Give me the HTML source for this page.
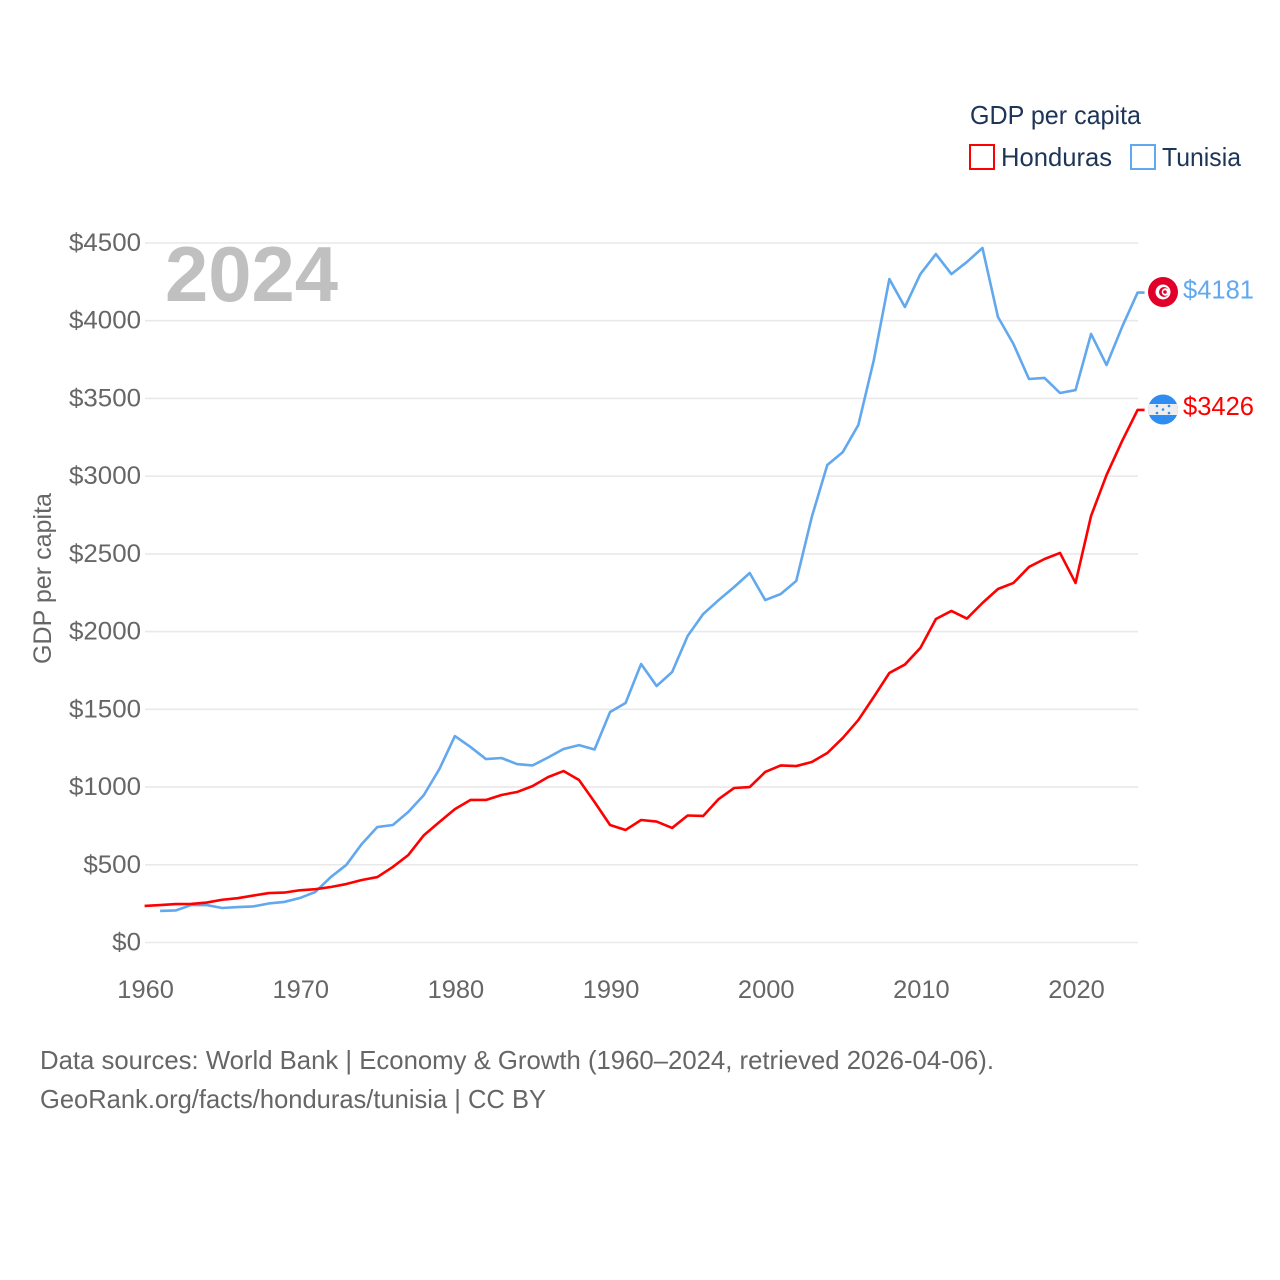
<!DOCTYPE html>
<html lang="en">
<head>
<meta charset="utf-8">
<title>GDP per capita: Honduras and Tunisia</title>
<style>
html,body{margin:0;padding:0;background:#fff;}
svg{display:block;font-family:"Liberation Sans",sans-serif;}
</style>
</head>
<body>
<svg id="chart" width="1280" height="1280" viewBox="0 0 1280 1280" xmlns="http://www.w3.org/2000/svg">
  <rect width="1280" height="1280" fill="#ffffff"/>
  <g id="grid"></g>
  <g id="yticks"></g>
  <g id="xticks"></g>
  <text x="165" y="301" font-size="78" font-weight="700" fill="#c0c0c0" textLength="173" lengthAdjust="spacingAndGlyphs">2024</text>
  <text transform="translate(51,664) rotate(-90)" font-size="25" fill="#666666" textLength="171" lengthAdjust="spacingAndGlyphs">GDP per capita</text>
  <g id="series"></g>

  <g>
    <text x="970" y="124" font-size="26" fill="#1d3557" textLength="171" lengthAdjust="spacingAndGlyphs">GDP per capita</text>
    <rect x="970" y="145" width="24" height="24" fill="#ffffff" stroke="#ff0000" stroke-width="2"/>
    <text x="1001" y="166" font-size="26" fill="#1d3557" textLength="111" lengthAdjust="spacingAndGlyphs">Honduras</text>
    <rect x="1131" y="145" width="24" height="24" fill="#ffffff" stroke="#62a8ee" stroke-width="2"/>
    <text x="1162" y="166" font-size="26" fill="#1d3557" textLength="79" lengthAdjust="spacingAndGlyphs">Tunisia</text>
  </g>

  <defs>
    <clipPath id="hn-clip"><circle cx="1163" cy="409.5" r="15"/></clipPath>
  </defs>
  <g id="flag-tunisia">
    <circle cx="1163" cy="292" r="15" fill="#e0002a"/>
    <circle cx="1163" cy="292" r="7.5" fill="#ffffff"/>
    <circle cx="1164" cy="292" r="5" fill="#e0002a"/>
    <circle cx="1165.5" cy="292" r="3.8" fill="#ffffff"/>
    <circle cx="1165" cy="292" r="1.8" fill="#e0002a"/>
  </g>
  <g id="flag-honduras">
    <g clip-path="url(#hn-clip)">
      <rect x="1148" y="394" width="30" height="31" fill="#2f8cf0"/>
      <rect x="1148" y="404" width="30" height="11" fill="#eeeeee"/>
    </g>
    <g fill="#2f8cf0">
      <circle cx="1157" cy="406" r="1.3"/>
      <circle cx="1169" cy="406" r="1.3"/>
      <circle cx="1163" cy="409.5" r="1.3"/>
      <circle cx="1157" cy="413" r="1.3"/>
      <circle cx="1169" cy="413" r="1.3"/>
    </g>
  </g>
  <g id="end-labels"></g>

  <g font-size="26" fill="#666666">
    <text x="40" y="1069" textLength="954" lengthAdjust="spacingAndGlyphs">Data sources: World Bank | Economy &amp; Growth (1960–2024, retrieved 2026-04-06).</text>
    <text x="40" y="1108" textLength="506" lengthAdjust="spacingAndGlyphs">GeoRank.org/facts/honduras/tunisia | CC BY</text>
  </g>
</svg>
<script>
const years = [1960,1961,1962,1963,1964,1965,1966,1967,1968,1969,
  1970,1971,1972,1973,1974,1975,1976,1977,1978,1979,
  1980,1981,1982,1983,1984,1985,1986,1987,1988,1989,
  1990,1991,1992,1993,1994,1995,1996,1997,1998,1999,
  2000,2001,2002,2003,2004,2005,2006,2007,2008,2009,
  2010,2011,2012,2013,2014,2015,2016,2017,2018,2019,
  2020,2021,2022,2023,2024];
const honduras = [235,241,247,248,257,275,285,302,318,321,
  336,343,357,376,402,421,486,563,690,775,
  858,917,917,949,968,1006,1064,1103,1045,904,
  756,724,788,778,737,817,814,923,994,1000,
  1097,1139,1135,1161,1219,1316,1431,1580,1734,1788,
  1895,2081,2133,2084,2184,2274,2313,2416,2467,2506,
  2313,2744,3008,3226,3426];
const tunisia = [null,203,206,241,241,222,228,232,251,261,
  286,325,421,499,634,743,756,840,949,1116,
  1328,1258,1180,1187,1148,1139,1190,1245,1270,1242,
  1483,1541,1792,1650,1740,1972,2113,2203,2287,2377,
  2203,2242,2326,2737,3072,3155,3329,3747,4268,4088,
  4300,4429,4300,4378,4468,4024,3850,3625,3632,3535,
  3554,3915,3715,3960,4181];
const yTickValues = [0,500,1000,1500,2000,2500,3000,3500,4000,4500];
const xTickValues = [1960,1970,1980,1990,2000,2010,2020];

const NS = 'http://www.w3.org/2000/svg';
function xScale(year){ return 144.6 + (year - 1960) * (1137.6 - 144.6) / 64; }
function yScale(value){ return 942.5 - value * (942.5 - 243) / 4500; }
function make(tag, attrs, parent, text){
  const el = document.createElementNS(NS, tag);
  for (const k in attrs) el.setAttribute(k, attrs[k]);
  if (text !== undefined) el.textContent = text;
  parent.appendChild(el);
  return el;
}
const CHAR_W = 14.4;

const gridG = document.getElementById('grid');
const yG = document.getElementById('yticks');
yTickValues.forEach(function(v){
  const y = yScale(v);
  const line = make('line', {x1:145, x2:1138, y1:y, y2:y, stroke:'#e9e9e9', 'stroke-width':1.6}, gridG);
  
  
  const s = '$' + v;
  const t = make('text', {x:141, y:y + 8, 'text-anchor':'end', 'font-size':25, fill:'#666666',
    textLength:s.length * CHAR_W, lengthAdjust:'spacingAndGlyphs'}, yG, s);
  
  
});

const xG = document.getElementById('xticks');
xTickValues.forEach(function(v){
  const s = String(v);
  const t = make('text', {x:xScale(v) + 1, y:998, 'text-anchor':'middle', 'font-size':25, fill:'#666666',
    textLength:s.length * CHAR_W - 1, lengthAdjust:'spacingAndGlyphs'}, xG, s);
  
  
});

function linePath(values){
  let d = '', last = null;
  values.forEach(function(v, i){
    if (v === null) return;
    d += (d ? 'L' : 'M') + xScale(years[i]).toFixed(2) + ' ' + yScale(v).toFixed(2);
    last = v;
  });
  d += 'L' + (xScale(years[years.length - 1]) + 7).toFixed(2) + ' ' + yScale(last).toFixed(2);
  return d;
}
const seriesG = document.getElementById('series');
const tunisiaLine = make('path', {d:linePath(tunisia), fill:'none', stroke:'#62a8ee', 'stroke-width':2.6, 'stroke-linejoin':'round'}, seriesG);


const hondurasLine = make('path', {d:linePath(honduras), fill:'none', stroke:'#ff0000', 'stroke-width':2.6, 'stroke-linejoin':'round'}, seriesG);



const endG = document.getElementById('end-labels');
const tunisiaLast = tunisia[tunisia.length - 1];
const hondurasLast = honduras[honduras.length - 1];
const tunisiaLabel = make('text', {x:1183, y:yScale(tunisiaLast) + 6, 'font-size':26, fill:'#62a8ee',
  textLength:71, lengthAdjust:'spacingAndGlyphs'}, endG, '$' + tunisiaLast);


const hondurasLabel = make('text', {x:1183, y:yScale(hondurasLast) + 5, 'font-size':26, fill:'#ff0000',
  textLength:71, lengthAdjust:'spacingAndGlyphs'}, endG, '$' + hondurasLast);


</script>
</body>
</html>
